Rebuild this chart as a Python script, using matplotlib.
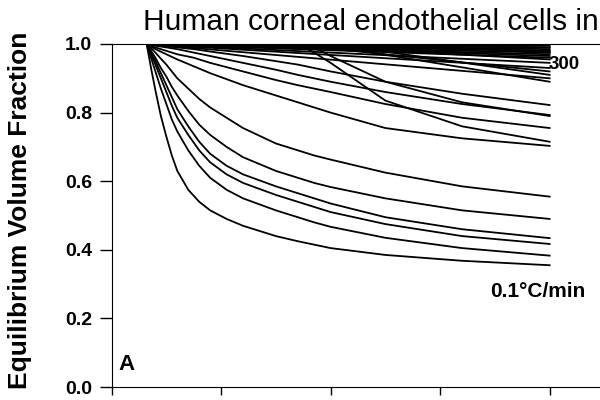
# courbes de fraction volumique - cellules endothéliales cornéennes
import matplotlib
matplotlib.use("Agg")
import matplotlib.pyplot as plt

# Température (unités de l'axe, graduations tous les 10)
temps_fine = [3.2, 3.6, 4, 4.5, 5, 5.5, 6, 7, 8, 9, 10.5, 12, 15, 17, 18.5, 20, 25, 32, 40]
temps = [3.2, 4, 5, 6, 7.5, 9, 12, 15, 17, 18.5, 20, 25, 32, 40]

# Courbes basses (vitesses lentes)
lower_curves = [
    [1, 0.93, 0.865, 0.79, 0.73, 0.675, 0.63, 0.575, 0.54, 0.515, 0.49, 0.47, 0.44, 0.425, 0.415, 0.405, 0.385, 0.368, 0.355],
    [1, 0.96, 0.92, 0.87, 0.825, 0.78, 0.745, 0.69, 0.645, 0.61, 0.575, 0.55, 0.515, 0.495, 0.48, 0.467, 0.435, 0.405, 0.383],
    [1, 0.97, 0.94, 0.90, 0.86, 0.82, 0.785, 0.735, 0.69, 0.655, 0.62, 0.595, 0.56, 0.54, 0.525, 0.51, 0.475, 0.44, 0.417],
    [1, 0.975, 0.95, 0.915, 0.88, 0.845, 0.81, 0.76, 0.715, 0.68, 0.645, 0.62, 0.585, 0.565, 0.55, 0.535, 0.495, 0.46, 0.434],
    [1, 0.98, 0.96, 0.93, 0.905, 0.875, 0.85, 0.805, 0.765, 0.735, 0.70, 0.67, 0.63, 0.61, 0.595, 0.583, 0.55, 0.515, 0.49],
    [1, 0.988, 0.975, 0.957, 0.94, 0.92, 0.90, 0.87, 0.84, 0.815, 0.785, 0.755, 0.71, 0.69, 0.675, 0.663, 0.625, 0.585, 0.555],
]

# Courbes intermédiaires
middle_curves = [
    [1, 0.985, 0.97, 0.955, 0.935, 0.915, 0.88, 0.85, 0.83, 0.815, 0.80, 0.755, 0.725, 0.703],
    [1, 0.99, 0.98, 0.97, 0.96, 0.945, 0.92, 0.895, 0.88, 0.87, 0.86, 0.825, 0.785, 0.755],
    [1, 0.995, 0.99, 0.985, 0.975, 0.965, 0.945, 0.925, 0.91, 0.90, 0.89, 0.86, 0.825, 0.793],
    [1, 0.997, 0.993, 0.99, 0.985, 0.978, 0.965, 0.95, 0.94, 0.93, 0.92, 0.89, 0.855, 0.822],
    [1, 1, 1, 1, 1, 1, 1, 1, 1, 0.975, 0.945, 0.835, 0.76, 0.715],
    [1, 1, 1, 1, 1, 1, 1, 1, 1, 0.99, 0.965, 0.89, 0.83, 0.79],
]

# Courbes hautes (quasi droites) : début et valeur finale
top_start = [3.2, 3.2, 3.2, 3.2, 3.2, 3.2, 3.2, 3.2, 3.2, 3.2, 3.2, 6, 9, 12, 14, 16, 19, 20, 24]
top_end = [0.998, 0.995, 0.99, 0.985, 0.98, 0.975, 0.97, 0.96, 0.945, 0.93, 0.90, 0.965, 0.99, 0.98, 0.955, 0.92, 0.89, 0.91, 0.975]
t_end = 40

yticks = [0.0, 0.2, 0.4, 0.6, 0.8, 1.0]
xticks = [0, 10, 20, 30, 40]
font = 'Liberation Sans'

fig = plt.figure(figsize=(6, 4), dpi=100)
ax = fig.add_axes([0.186, 0.0325, 0.814, 0.8575])

for c in lower_curves:
    ax.plot(temps_fine, c, color='black', lw=1.3)
for c in middle_curves:
    ax.plot(temps, c, color='black', lw=1.3)
for s, e in zip(top_start, top_end):
    ax.plot([s, t_end], [1.0, e], color='black', lw=1.3)

ax.set_xlim(0, 44.6)
ax.set_ylim(0, 1.0)
ax.spines['right'].set_visible(False)
ax.set_xticks(xticks)
ax.set_xticklabels([])
ax.set_yticks(yticks)
ax.set_yticklabels([f"{v:.1f}" for v in yticks], fontweight='bold', fontsize=14, family=font)
ax.tick_params(axis='y', direction='out', length=9, width=1, pad=5)
ax.tick_params(axis='x', direction='out', length=6, width=1)

fig.text(20 / 600, 1 - 210 / 400, 'Equilibrium Volume Fraction', rotation=90, fontweight='bold',
         fontsize=19, family=font, ha='center', va='center')

ax.text(39.9, 0.94, '300', fontweight='bold', fontsize=13.5, family=font, va='center', ha='left')
ax.text(34.6, 0.277, '0.1°C/min', fontweight='bold', fontsize=15, family=font, va='center', ha='left')
ax.text(0.6, 0.067, 'A', fontweight='bold', fontsize=16, family=font, va='center', ha='left')

fig.text(0.238, 1 - 30 / 400, 'Human corneal endothelial cells in', fontsize=21.5, family=font,
         ha='left', va='baseline')

fig.savefig('out.png', dpi=100)
